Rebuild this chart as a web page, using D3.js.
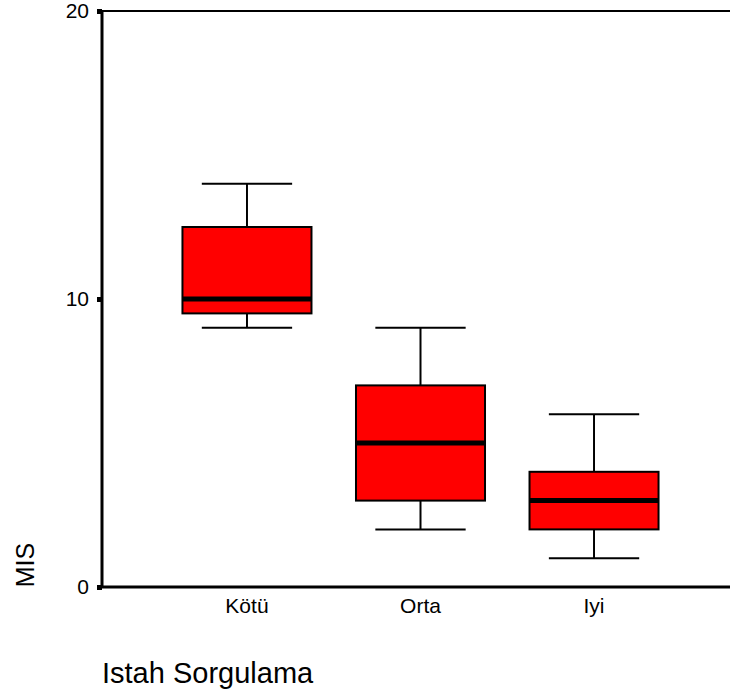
<!DOCTYPE html>
<html>
<head>
<meta charset="utf-8">
<script src="https://cdn.jsdelivr.net/npm/d3@7"></script>
<style>
  body { margin: 0; background: #fff; }
  svg { display: block; font-family: Arial, 'Liberation Sans', sans-serif; }
</style>
</head>
<body>
<div id="chart"></div>
<script>
const categories = ['Kötü', 'Orta', 'Iyi'];
const minValues = [9, 2, 1];
const q1Values = [9.5, 3, 2];
const medianValues = [10, 5, 3];
const q3Values = [12.5, 7, 4];
const maxValues = [14, 9, 6];
const yTicks = [0, 10, 20];

const width = 730, height = 697;
const plotLeft = 102, plotTop = 11, plotBottom = 587;

const data = categories.map((c, i) => ({
  cat: c,
  min: minValues[i],
  q1: q1Values[i],
  median: medianValues[i],
  q3: q3Values[i],
  max: maxValues[i]
}));

const svg = d3.select('#chart').append('svg')
  .attr('width', width)
  .attr('height', height);

const x = d3.scaleBand()
  .domain(categories)
  .range([160.25, 680.75])
  .paddingInner(0.2565)
  .paddingOuter(0.128);

const y = d3.scaleLinear()
  .domain([0, 20])
  .range([plotBottom, plotTop]);

// frame: top line + bottom axis line
svg.append('line')
  .attr('x1', plotLeft).attr('x2', width)
  .attr('y1', plotTop).attr('y2', plotTop)
  .attr('stroke', '#000').attr('stroke-width', 2);
svg.append('line')
  .attr('x1', plotLeft).attr('x2', width)
  .attr('y1', plotBottom).attr('y2', plotBottom)
  .attr('stroke', '#000').attr('stroke-width', 3);

// y axis
const yAxis = svg.append('g')
  .attr('transform', `translate(${plotLeft},0)`)
  .call(d3.axisLeft(y).tickValues(yTicks).tickSize(5).tickPadding(8));
yAxis.select('.domain').attr('stroke-width', 3).attr('d', `M0,${plotTop - 1}V${plotBottom + 1}`);
yAxis.selectAll('.tick line').attr('stroke-width', 5);
yAxis.selectAll('.tick text')
  .attr('font-size', 21)
  .attr('font-family', 'Arial, Liberation Sans, sans-serif')
  .attr('fill', '#000');

// category labels
svg.append('g').selectAll('text')
  .data(categories)
  .join('text')
  .attr('x', d => x(d) + x.bandwidth() / 2)
  .attr('y', 613)
  .attr('text-anchor', 'middle')
  .attr('font-size', 21)
  .text(d => d);

// boxes
const capW = x.bandwidth() * 0.7;
const g = svg.append('g').selectAll('g')
  .data(data)
  .join('g');

g.append('line')
  .attr('x1', d => x(d.cat) + x.bandwidth() / 2)
  .attr('x2', d => x(d.cat) + x.bandwidth() / 2)
  .attr('y1', d => y(d.max))
  .attr('y2', d => y(d.min))
  .attr('stroke', '#000').attr('stroke-width', 2);

g.selectAll('.cap')
  .data(d => [d.min, d.max].map(v => ({ cat: d.cat, v })))
  .join('line')
  .attr('class', 'cap')
  .attr('x1', d => x(d.cat) + (x.bandwidth() - capW) / 2)
  .attr('x2', d => x(d.cat) + (x.bandwidth() + capW) / 2)
  .attr('y1', d => y(d.v))
  .attr('y2', d => y(d.v))
  .attr('stroke', '#000').attr('stroke-width', 2);

g.append('rect')
  .attr('x', d => x(d.cat))
  .attr('width', x.bandwidth())
  .attr('y', d => y(d.q3))
  .attr('height', d => y(d.q1) - y(d.q3))
  .attr('fill', '#ff0000')
  .attr('stroke', '#000').attr('stroke-width', 2);

g.append('line')
  .attr('x1', d => x(d.cat))
  .attr('x2', d => x(d.cat) + x.bandwidth())
  .attr('y1', d => y(d.median))
  .attr('y2', d => y(d.median))
  .attr('stroke', '#000').attr('stroke-width', 5);

// axis titles
svg.append('text')
  .attr('transform', `translate(34,565) rotate(-90)`)
  .attr('text-anchor', 'middle')
  .attr('font-size', 25)
  .text('MIS');

svg.append('text')
  .attr('x', 102)
  .attr('y', 683)
  .attr('font-size', 29)
  .text('Istah Sorgulama');
</script>
</body>
</html>
